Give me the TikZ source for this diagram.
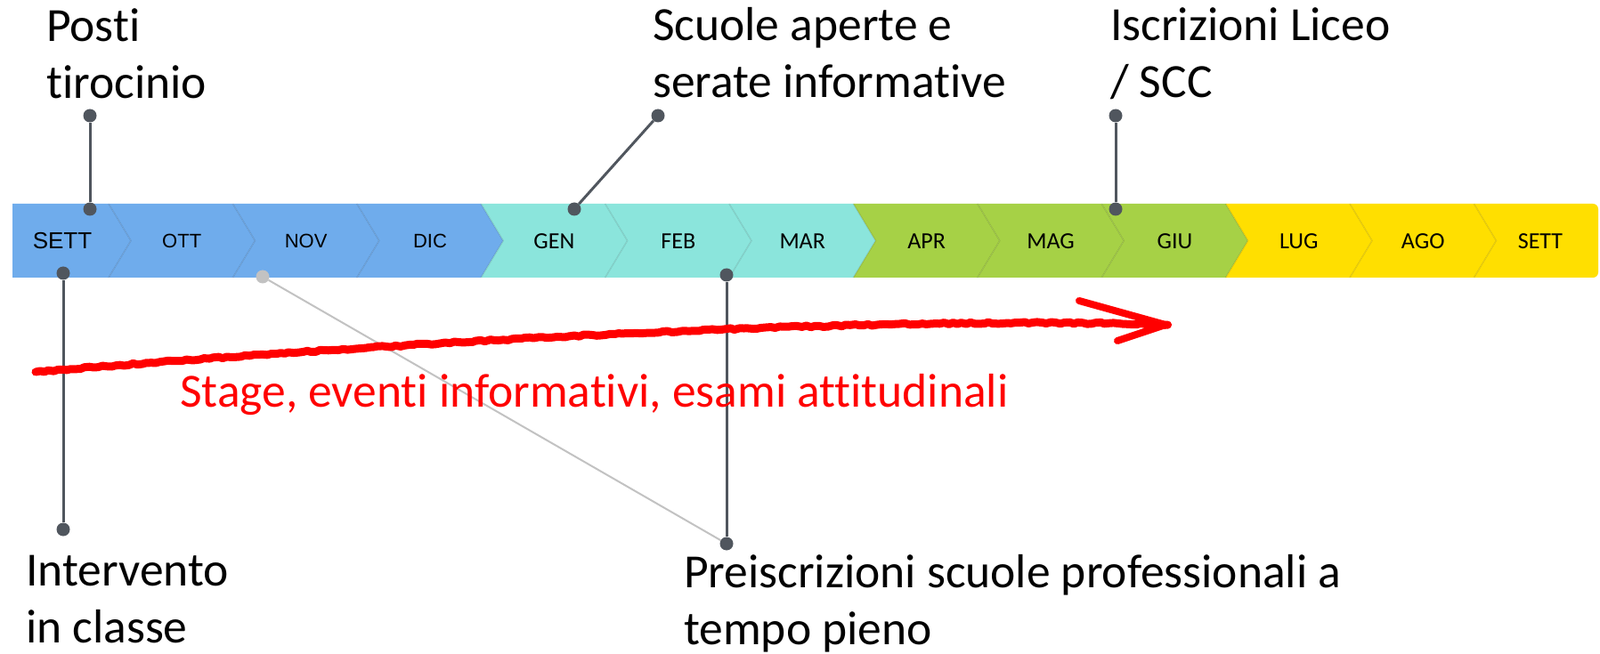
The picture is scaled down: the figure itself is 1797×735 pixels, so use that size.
\documentclass[tikz,border=0pt]{standalone}
\usepackage{fontspec}
\setmainfont{Carlito}[Ligatures=NoCommon]
\newfontfamily\arialfont{Liberation Sans}
\usetikzlibrary{decorations.pathmorphing}

\definecolor{monthblue}{HTML}{6FACEC}
\definecolor{monthteal}{HTML}{8BE5DC}
\definecolor{monthgreen}{HTML}{A6D146}
\definecolor{monthyellow}{HTML}{FFDF00}
\definecolor{beaddark}{HTML}{50565E}
\definecolor{beadpale}{HTML}{C2C2C2}
\definecolor{stagered}{HTML}{FF0000}

\tikzset{
  bead/.style={circle, fill=beaddark, inner sep=0pt, minimum size=15pt},
  beadgrey/.style={circle, fill=beadpale, inner sep=0pt, minimum size=15pt},
  stalk/.style={draw=beaddark, line width=3pt},
  stalkgrey/.style={draw=beadpale, line width=2pt},
  callout/.style={anchor=base west, align=left, inner sep=0pt, font=\fontsize{53.5}{64}\selectfont},
  month/.style={inner sep=0pt, font=\fontsize{26}{30}\selectfont},
  monthsans/.style={inner sep=0pt, font=\arialfont\fontsize{22}{26}\selectfont},
}

\begin{document}
\begin{tikzpicture}[x=1pt, y=-1pt]
          \useasboundingbox (0,0) rectangle (1797,735);

          % the band of months
          \fill[monthblue] (14,229) -- (122,229) -- (147,270.5) -- (122,312) -- (14,312) -- cycle;
          \foreach \k/\col in {1/monthblue, 2/monthblue, 3/monthblue, 4/monthteal, 5/monthteal, 6/monthteal, 7/monthgreen, 8/monthgreen, 9/monthgreen, 10/monthyellow, 11/monthyellow}
            \fill[\col] ({122+139.4*(\k-1)},229) -- ({122+139.4*\k},229) -- ({147+139.4*\k},270.5) -- ({122+139.4*\k},312) -- ({122+139.4*(\k-1)},312) -- ({147+139.4*(\k-1)},270.5) -- cycle;
          \fill[monthyellow] (1655.4,229) -- (1789,229) to[out=0, in=90] (1795,235) -- (1795,306) to[out=-90, in=0] (1789,312) -- (1655.4,312) -- (1680.4,270.5) -- cycle;
          \foreach \k in {0,...,11}
            \draw[black, opacity=0.1, line width=1.5pt] ({122+139.4*\k},229) -- ({147+139.4*\k},270.5) -- ({122+139.4*\k},312);

          \node[month, font=\arialfont\fontsize{26}{30}\selectfont] (m0) at (70,271) {SETT};
          \foreach \k/\lab in {1/OTT, 2/NOV, 3/DIC}
            \node[monthsans] (m\k) at ({134.5+139.4*(\k-0.5)},271) {\lab};
          \foreach \k/\lab in {4/GEN, 5/FEB, 6/MAR, 7/APR, 8/MAG, 9/GIU, 10/LUG, 11/AGO}
            \node[month] (m\k) at ({134.5+139.4*(\k-0.5)},271) {\lab};
          \node[month] (m12) at (1730,271) {SETT};

          % beads
          \node[bead] (postitop) at (101,130) {};
          \node[bead] (postibar) at (101,235) {};
          \node[bead] (scuoletop) at (739,130) {};
          \node[bead] (scuolebar) at (645,235) {};
          \node[bead] (iscrtop) at (1253,130) {};
          \node[bead] (iscrbar) at (1253,235) {};
          \node[bead] (settbar) at (71,307) {};
          \node[bead] (settbot) at (71,595) {};
          \node[bead] (febbar) at (816,309) {};
          \node[bead] (febbot) at (816,611) {};
          \node[beadgrey] (novbar) at (295,311) {};

          \draw[stalk] (postitop) -- (postibar);
          \draw[stalk] (scuoletop) -- (scuolebar);
          \draw[stalk] (iscrtop) -- (iscrbar);
          \draw[stalk] (settbar) -- (settbot);
          \draw[stalk] (febbar) -- (febbot);
          \draw[stalkgrey] (novbar) -- (febbot);

          % callouts (base = last line)
          \node[callout] (posti) at (52,111) {Posti\\tirocinio};
          \node[callout] (scuole) at (733,110) {Scuole aperte e\\serate informative};
          \node[callout] (iscrizioni) at (1247,110) {Iscrizioni Liceo\\/ SCC};
          \node[callout] (intervento) at (29,722) {Intervento\\in classe};
          \node[callout] (preiscrizioni) at (768,724) {Preiscrizioni scuole professionali a\\tempo pieno};

          % red arrow
          \coordinate (arrowtail) at (40,418);
          \coordinate (arrowtip) at (1309,365);
          \coordinate (barbup) at (1212,338);
          \coordinate (barbdown) at (1255,383);
          \draw[stagered, line width=9pt, line cap=round, line join=round, decorate, decoration={random steps, segment length=5pt, amplitude=1pt}]
            (arrowtail) .. controls (500,380) and (1000,355) .. (arrowtip);
          \draw[stagered, line width=8pt, line cap=round, line join=round] (barbup) -- (arrowtip) -- (barbdown);
          \node[callout, text=stagered] (stage) at (202,457) {Stage, eventi informativi, esami attitudinali};
\end{tikzpicture}
\end{document}
